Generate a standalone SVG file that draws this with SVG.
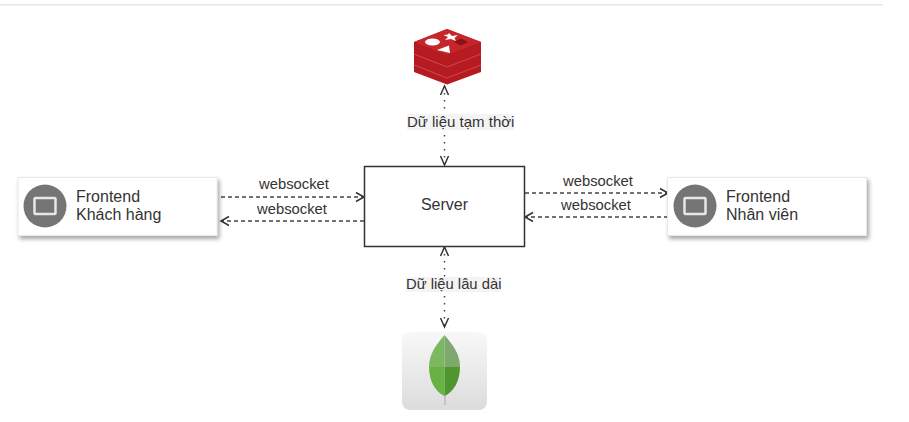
<svg xmlns="http://www.w3.org/2000/svg" width="909" height="422" viewBox="0 0 909 422">
<style>
text{font-family:"Liberation Sans",Arial,sans-serif;font-size:14.800px;fill:#333}
.big{font-size:16px}
.card{fill:#fff;stroke:#e8e8e8;stroke-width:1;filter:url(#sh)}
.c{stroke:#444;stroke-width:1.600;stroke-dasharray:4 3;fill:none}
.d{stroke:#444;stroke-width:1.500;stroke-dasharray:1.500 5.500;fill:none}
.h{stroke:#333;stroke-width:1.500;fill:none}
.lb{fill:#f4f4f4}
</style>
<defs>
<filter id="sh" x="-10%" y="-20%" width="120%" height="150%"><feDropShadow dx="2" dy="3" stdDeviation="2" flood-color="#000" flood-opacity=".35"/></filter>
<linearGradient id="mg" x1="0" y1="0" x2="0" y2="1"><stop offset="0" stop-color="#f8f8f8"/><stop offset="1" stop-color="#dcdcdc"/></linearGradient>
</defs>
<rect x="0" y="4" width="883" height="1.500" fill="#e6e6e6"/>
<g id="connectors">
<path class="c" d="M221 197H364"/><path class="h" d="M356 192.500L364 197L356 201.500"/>
<path class="c" d="M364 221H221"/><path class="h" d="M229 216.500L221 221L229 225.500"/>
<path class="c" d="M525 193H668"/><path class="h" d="M660 188.500L668 193L660 197.500"/>
<path class="c" d="M668 217H525"/><path class="h" d="M533 212.500L525 217L533 221.500"/>
<path class="d" d="M444.500 86V165"/><path class="h" d="M440.500 95L444.500 86L448.500 95M440.500 156L444.500 165L448.500 156"/>
<path class="d" d="M444.500 247V327"/><path class="h" d="M440.500 256L444.500 247L448.500 256M440.500 318L444.500 327L448.500 318"/>
<rect class="lb" x="407" y="114" width="107" height="16"/>
<rect class="lb" x="406" y="277" width="95" height="15"/>
<text x="407" y="127" style="font-size:15px">Dữ liệu tạm thời</text>
<text x="406" y="289">Dữ liệu lâu dài</text>
<text x="259" y="189">websocket</text>
<text x="257" y="214">websocket</text>
<text x="563" y="186">websocket</text>
<text x="561" y="210">websocket</text>
</g>
<g id="server">
<rect x="364.500" y="166.500" width="160" height="80" fill="#fff" stroke="#333" stroke-width="1.500"/>
<text class="big" x="444.500" y="210" text-anchor="middle">Server</text>
</g>
<g id="frontend-khach">
<rect class="card" x="18" y="177.500" width="199" height="58"/>
<circle cx="45" cy="206" r="21.500" fill="#757575"/>
<rect x="34.500" y="198" width="21" height="16" fill="#757575" stroke="#e8e8e8" stroke-width="2.500" rx="1"/>
<text class="big" x="76" y="202">Frontend</text>
<text class="big" x="76" y="220">Khách hàng</text>
</g>
<g id="frontend-nhan">
<rect class="card" x="667.500" y="177.500" width="199" height="58"/>
<circle cx="695" cy="206" r="21.500" fill="#757575"/>
<rect x="684.500" y="198" width="21" height="16" fill="#757575" stroke="#e8e8e8" stroke-width="2.500" rx="1"/>
<text class="big" x="726" y="202">Frontend</text>
<text class="big" x="726" y="220">Nhân viên</text>
</g>
<g id="redis">
<path d="M414 42V72L447 84.500L481 72V42L447 29Z" fill="#b51b21"/>
<path d="M414 54L447 67L481 54M414 65L447 78L481 65" fill="none" stroke="#d2474c" stroke-width="1"/>
<path d="M414 42L447 29L481 42L447 55Z" fill="#c5252b"/>
<ellipse cx="432.500" cy="42" rx="7.500" ry="3.500" fill="#fff"/>
<path d="M449 33L452 36L458 35L454.500 38L456 41L451 39L445 40L448 37L443.500 35L448 34.500Z" fill="#fff"/>
<path d="M437 50L449 45.500L450 53Z" fill="#fff"/>
<path d="M454 42L461 38.500L468 42L461 45.500Z" fill="#8a1318"/>
</g>
<g id="mongodb">
<rect x="402" y="332" width="85" height="78" rx="8" fill="url(#mg)"/>
<path d="M444 395H446V405H444Z" fill="#c4c4c4"/>
<path d="M444.500 335C436 345 429 354 429 367H444.500Z" fill="#7cb860"/>
<path d="M444.500 335C453 345 460 354 460 367H444.500Z" fill="#7fa86f"/>
<path d="M429 367C429 382 436 392 444.500 396V367Z" fill="#69b045"/>
<path d="M460 367C460 382 453 392 444.500 396V367Z" fill="#50962f"/>
</g>
</svg>
